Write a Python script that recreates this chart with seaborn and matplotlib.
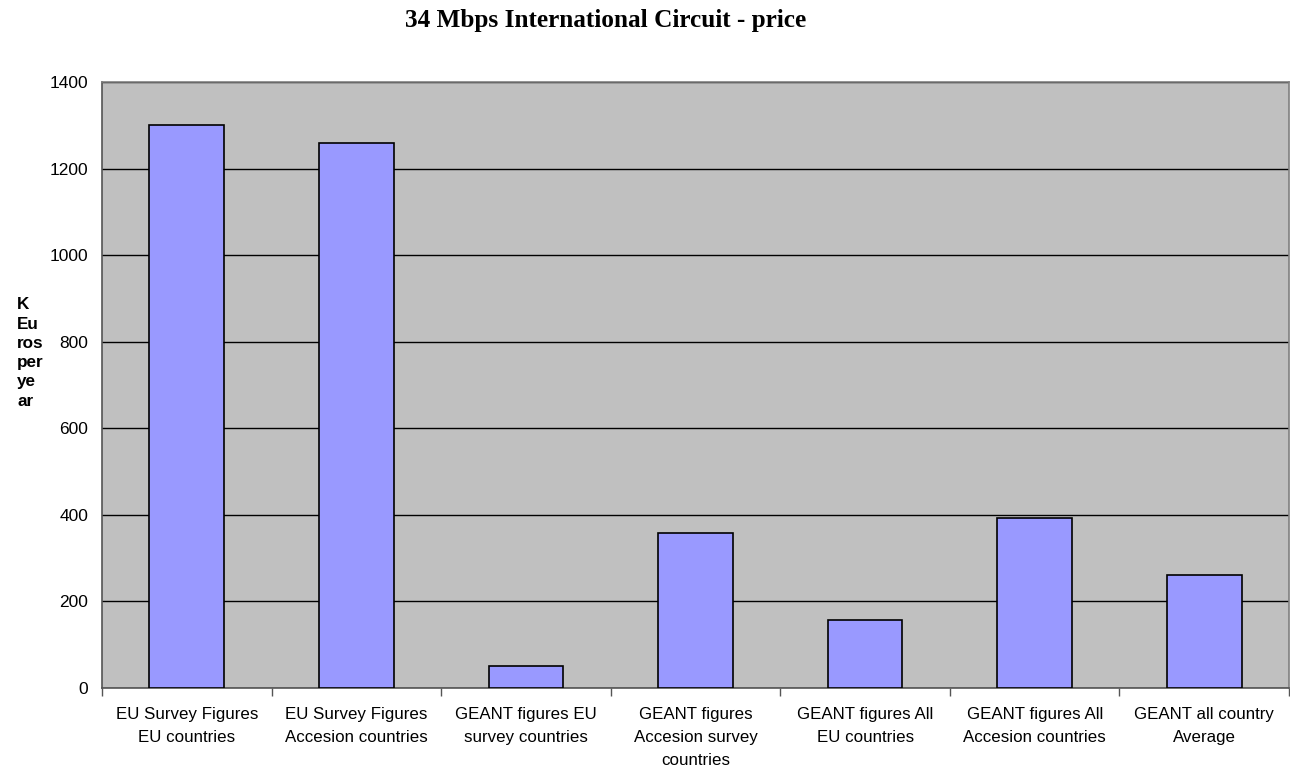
import matplotlib
matplotlib.use("Agg")
import matplotlib.pyplot as plt
import seaborn as sns
import pandas as pd
import numpy as np
from matplotlib.ticker import FixedLocator

categories = [
    "EU Survey Figures\nEU countries",
    "EU Survey Figures\nAccesion countries",
    "GEANT figures EU\nsurvey countries",
    "GEANT figures\nAccesion survey\ncountries",
    "GEANT figures All\nEU countries",
    "GEANT figures All\nAccesion countries",
    "GEANT all country\nAverage",
]
values = [1300, 1260, 50, 358, 157, 393, 261]

sns.set_theme(style="white")
plt.rcParams['font.family'] = ['Liberation Sans', 'DejaVu Sans']
plt.rcParams['text.color'] = 'black'
plt.rcParams['xtick.color'] = 'black'
plt.rcParams['ytick.color'] = 'black'

df = pd.DataFrame({"cat": categories, "val": values})

fig = plt.figure(figsize=(12.9, 7.68), dpi=100)
ax = fig.add_axes([102/1290, 1-688/768, 1187/1290, (688-82)/768])
ax.set_facecolor("#c0c0c0")

sns.barplot(data=df, x="cat", y="val", color="#9999ff", saturation=1,
            width=0.44, edgecolor="black", linewidth=1.2, ax=ax, zorder=3)

ax.set_ylim(0, 1400)
ax.set_xlim(-0.5, len(categories) - 0.5)
ax.set_yticks(np.arange(0, 1401, 200))
ax.yaxis.grid(True, color="black", linewidth=1)
ax.set_axisbelow(True)
for s in ax.spines.values():
    s.set_color("#808080")
    s.set_linewidth(1.2)
ax.spines['left'].set_color("#555555")
ax.spines['bottom'].set_color("#555555")

ax.tick_params(axis='y', which='major', direction='out', length=6, width=1,
               color="#555555", labelcolor="black", labelsize=12.5, pad=4)
ax.tick_params(axis='x', which='major', length=0, labelsize=12.2, pad=14,
               labelcolor="black")
ax.xaxis.set_minor_locator(FixedLocator(np.arange(-0.5, len(categories), 1)))
ax.tick_params(axis='x', which='minor', direction='out', length=6, width=1,
               color="#555555", bottom=True)
ax.set_xlabel("")
ax.set_ylabel("")
for lab in ax.get_xticklabels():
    lab.set_horizontalalignment("center")
    lab.set_multialignment("center")
    lab.set_verticalalignment("top")
    lab.set_linespacing(1.65)

fig.text(17/1290, 1-353/768, "K\nEu\nros\nper\nye\nar", fontsize=12.3,
         fontweight="bold", ha="left", va="center", linespacing=1.36,
         color="black")
fig.text(606/1290, 1-21/768, "34 Mbps International Circuit - price",
         family="Liberation Serif", fontweight="bold", fontsize=18.2,
         ha="center", va="center", color="black")

fig.savefig("out.png", dpi=100)
